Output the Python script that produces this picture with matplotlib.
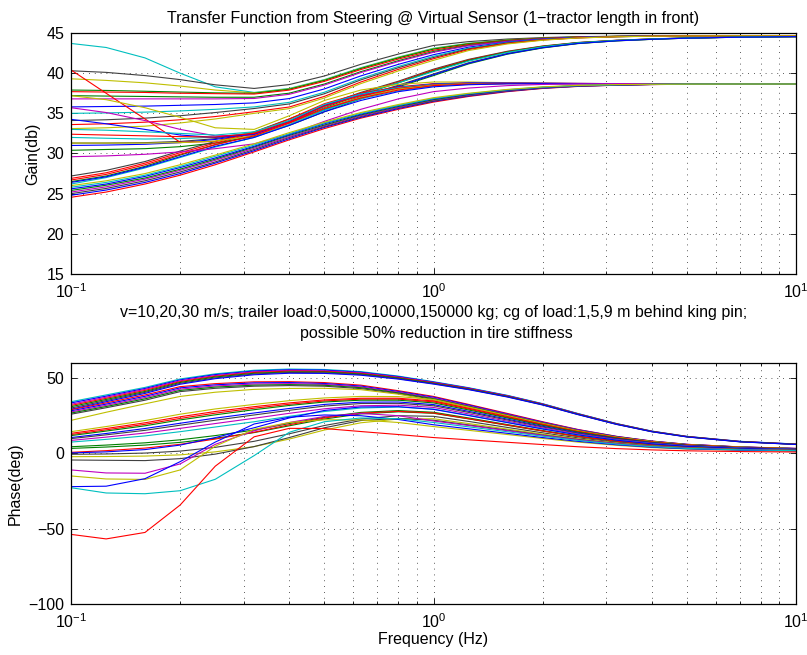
import matplotlib
matplotlib.use("Agg")
import matplotlib.pyplot as plt
from matplotlib.ticker import LogLocator, NullFormatter, NullLocator

# frequency grid (Hz) shared by every response curve
freq_hz = [0.1, 0.125, 0.16, 0.2, 0.25, 0.32, 0.4, 0.5, 0.63, 0.8,
           1.0, 1.25, 1.6, 2.0, 2.5, 3.2, 4.0, 5.0, 7.0, 10.0]

# gain (dB), one row per vehicle configuration
gain_db = [
    # settles at ~44.6 dB, early rise
    [43.7, 43.2, 41.9, 40.0, 38.3, 37.6, 38.1, 39.2, 40.68, 42.0, 43.1, 43.72, 44.14, 44.37, 44.51, 44.59, 44.63, 44.64, 44.65, 44.65],
    [40.3, 40.1, 39.7, 39.2, 38.55, 38.1, 38.58, 39.65, 41.1, 42.38, 43.45, 43.93, 44.25, 44.43, 44.54, 44.6, 44.63, 44.64, 44.65, 44.65],
    [39.3, 39.1, 38.8, 38.4, 37.9, 37.55, 38.05, 39.15, 40.62, 41.95, 43.05, 43.69, 44.12, 44.36, 44.5, 44.58, 44.63, 44.64, 44.65, 44.65],
    [37.9, 37.85, 37.75, 37.65, 37.55, 37.5, 38.0, 39.1, 40.58, 41.9, 43.0, 43.66, 44.11, 44.35, 44.5, 44.58, 44.63, 44.64, 44.65, 44.65],
    [37.7, 37.65, 37.6, 37.5, 37.45, 37.4, 37.89, 38.98, 40.45, 41.76, 42.85, 43.57, 44.06, 44.33, 44.49, 44.58, 44.62, 44.64, 44.65, 44.65],
    [37.2, 37.15, 37.1, 37.05, 37.0, 37.0, 37.51, 38.65, 40.19, 41.56, 42.7, 43.48, 44.01, 44.3, 44.47, 44.57, 44.62, 44.64, 44.65, 44.65],
    [36.8, 36.8, 36.8, 36.8, 36.8, 36.85, 37.37, 38.52, 40.07, 41.45, 42.6, 43.42, 43.97, 44.28, 44.47, 44.57, 44.62, 44.64, 44.65, 44.65],
    [35.8, 35.85, 35.9, 36.0, 36.1, 36.3, 36.84, 38.04, 39.66, 41.1, 42.3, 43.24, 43.87, 44.23, 44.44, 44.56, 44.61, 44.64, 44.65, 44.65],
    [35.0, 35.05, 35.15, 35.3, 35.5, 35.8, 36.37, 37.63, 39.33, 40.84, 42.1, 43.12, 43.81, 44.19, 44.42, 44.55, 44.61, 44.64, 44.65, 44.65],
    [34.1, 34.2, 34.4, 34.7, 35.1, 35.6, 36.17, 37.44, 39.16, 40.68, 41.95, 43.03, 43.76, 44.16, 44.41, 44.54, 44.61, 44.64, 44.65, 44.65],
    [33.6, 33.7, 33.9, 34.2, 34.6, 35.2, 35.79, 37.11, 38.9, 40.48, 41.8, 42.94, 43.71, 44.14, 44.39, 44.54, 44.61, 44.64, 44.65, 44.65],
    [33.1, 33.2, 33.4, 33.8, 34.3, 35.0, 35.59, 36.91, 38.7, 40.28, 41.6, 42.82, 43.64, 44.1, 44.38, 44.53, 44.6, 44.63, 44.65, 44.65],
    # settles at ~44.6 dB, late rise
    [31.3, 31.3, 31.35, 31.5, 31.85, 32.6, 33.9, 35.5, 37.1, 38.5, 39.9, 41.3, 42.46, 43.2, 43.71, 44.04, 44.22, 44.36, 44.48, 44.55],
    [30.4, 30.5, 30.6, 30.85, 31.3, 32.1, 33.5, 35.2, 36.8, 38.3, 39.7, 41.16, 42.37, 43.14, 43.68, 44.02, 44.21, 44.36, 44.48, 44.55],
    [27.2, 27.9, 29.0, 30.3, 31.5, 32.7, 34.3, 36.0, 37.6, 39.0, 40.5, 41.72, 42.73, 43.38, 43.82, 44.1, 44.27, 44.39, 44.49, 44.55],
    [26.9, 27.6, 28.8, 30.1, 31.3, 32.5, 34.1, 35.9, 37.5, 38.9, 40.4, 41.65, 42.68, 43.35, 43.8, 44.09, 44.26, 44.38, 44.49, 44.55],
    [26.5, 27.2, 28.4, 29.8, 31.1, 32.3, 33.9, 35.7, 37.3, 38.8, 40.3, 41.58, 42.64, 43.32, 43.79, 44.08, 44.25, 44.38, 44.49, 44.55],
    [32.0, 31.9, 31.8, 31.85, 32.05, 32.6, 34.0, 35.8, 37.4, 38.8, 40.2, 41.5, 42.59, 43.29, 43.77, 44.07, 44.25, 44.38, 44.49, 44.55],
    [31.0, 31.05, 31.15, 31.35, 31.75, 32.45, 33.8, 35.4, 37.0, 38.4, 39.8, 41.23, 42.41, 43.17, 43.7, 44.03, 44.22, 44.36, 44.48, 44.55],
    # settles at ~38.7 dB, early rise
    [40.4, 37.5, 34.3, 31.4, 31.5, 32.6, 34.3, 36.2, 37.5, 38.3, 38.7, 38.8, 38.78, 38.74, 38.72, 38.7, 38.7, 38.7, 38.7, 38.7],
    [37.2, 36.7, 35.7, 34.5, 33.2, 33.0, 34.7, 36.6, 37.9, 38.6, 38.9, 38.9, 38.82, 38.76, 38.72, 38.7, 38.7, 38.7, 38.7, 38.7],
    [35.7, 35.1, 34.1, 33.0, 32.2, 32.3, 33.8, 35.9, 37.3, 38.1, 38.6, 38.75, 38.78, 38.74, 38.72, 38.7, 38.7, 38.7, 38.7, 38.7],
    [34.25, 33.7, 33.0, 32.3, 32.0, 32.4, 34.0, 36.0, 37.4, 38.2, 38.65, 38.78, 38.78, 38.74, 38.72, 38.7, 38.7, 38.7, 38.7, 38.7],
    [33.0, 32.9, 32.7, 32.5, 32.3, 32.7, 34.1, 36.1, 37.4, 38.2, 38.6, 38.72, 38.74, 38.72, 38.7, 38.7, 38.7, 38.7, 38.7, 38.7],
    [32.4, 32.3, 32.2, 32.1, 32.05, 32.5, 33.9, 35.9, 37.2, 38.1, 38.55, 38.7, 38.74, 38.72, 38.7, 38.7, 38.7, 38.7, 38.7, 38.7],
    [31.3, 31.3, 31.3, 31.35, 31.55, 32.2, 33.6, 35.6, 37.0, 38.0, 38.5, 38.66, 38.72, 38.71, 38.7, 38.7, 38.7, 38.7, 38.7, 38.7],
    [26.2, 27.0, 28.2, 29.5, 30.8, 32.0, 33.6, 35.4, 36.8, 37.8, 38.4, 38.62, 38.7, 38.7, 38.7, 38.7, 38.7, 38.7, 38.7, 38.7],
    [26.7, 27.4, 28.6, 29.9, 31.1, 32.2, 33.8, 35.6, 36.9, 37.9, 38.45, 38.64, 38.7, 38.7, 38.7, 38.7, 38.7, 38.7, 38.7, 38.7],
    [26.4, 27.1, 28.3, 29.6, 30.9, 32.0, 33.5, 35.2, 36.6, 37.7, 38.3, 38.56, 38.68, 38.7, 38.7, 38.7, 38.7, 38.7, 38.7, 38.7],
    [29.6, 29.7, 29.9, 30.2, 30.6, 31.2, 32.4, 34.0, 35.5, 36.8, 37.7, 38.15, 38.45, 38.6, 38.67, 38.7, 38.7, 38.7, 38.7, 38.7],
    # settles at ~38.7 dB, late rise
    [24.55, 25.2, 26.2, 27.3, 28.6, 30.2, 31.7, 33.1, 34.4, 35.5, 36.4, 37.1, 37.7, 38.1, 38.35, 38.5, 38.58, 38.62, 38.65, 38.65],
    [24.8, 25.45, 26.4, 27.5, 28.8, 30.35, 31.85, 33.25, 34.5, 35.6, 36.5, 37.17, 37.75, 38.13, 38.37, 38.51, 38.59, 38.62, 38.65, 38.65],
    [25.0, 25.65, 26.6, 27.7, 28.95, 30.5, 32.0, 33.35, 34.6, 35.7, 36.55, 37.22, 37.79, 38.16, 38.39, 38.52, 38.59, 38.62, 38.65, 38.65],
    [25.2, 25.85, 26.8, 27.9, 29.15, 30.65, 32.1, 33.45, 34.7, 35.75, 36.65, 37.28, 37.83, 38.19, 38.41, 38.54, 38.6, 38.63, 38.65, 38.65],
    [25.4, 26.05, 26.95, 28.05, 29.3, 30.8, 32.25, 33.55, 34.8, 35.85, 36.7, 37.34, 37.87, 38.22, 38.43, 38.55, 38.6, 38.63, 38.65, 38.65],
    [25.6, 26.2, 27.15, 28.25, 29.45, 30.9, 32.35, 33.7, 34.9, 35.95, 36.8, 37.39, 37.9, 38.24, 38.44, 38.56, 38.61, 38.63, 38.65, 38.65],
    [25.8, 26.4, 27.3, 28.4, 29.65, 31.05, 32.45, 33.8, 35.0, 36.0, 36.85, 37.44, 37.94, 38.27, 38.46, 38.57, 38.61, 38.64, 38.65, 38.65],
    [26.0, 26.6, 27.5, 28.6, 29.8, 31.2, 32.6, 33.9, 35.1, 36.1, 36.95, 37.5, 37.98, 38.3, 38.48, 38.58, 38.62, 38.64, 38.65, 38.65],
]
gain_colors = ['c', 'k', 'y', 'g', 'r', 'g', 'm', 'b', 'c', 'k', 'r', 'y',
               'k', 'g', 'k', 'r', 'g', 'c', 'b',
               'r', 'y', 'm', 'b', 'c', 'r', 'y', 'c', 'r', 'b', 'm',
               'r', 'b', 'k', 'm', 'g', 'b', 'c', 'y']

# phase (deg), one row per vehicle configuration
phase_deg = [
    # highest band
    [34.3, 38.8, 43.8, 49.4, 52.8, 55.2, 56.0, 55.7, 54.3, 51.3, 47.6, 43.6, 38.5, 33.0, 26.5, 19.8, 14.8, 11.3, 8.0, 6.2],
    [33.5, 38.0, 43.1, 48.8, 52.3, 54.7, 55.5, 55.3, 53.9, 51.0, 47.33, 43.38, 38.32, 32.85, 26.37, 19.7, 14.72, 11.23, 7.94, 6.15],
    [32.6, 37.3, 42.5, 48.2, 51.7, 54.2, 55.1, 54.8, 53.5, 50.6, 47.07, 43.17, 38.13, 32.7, 26.25, 19.6, 14.65, 11.17, 7.88, 6.1],
    [31.8, 36.55, 41.8, 47.65, 51.2, 53.7, 54.6, 54.4, 53.1, 50.3, 46.8, 42.95, 37.95, 32.55, 26.12, 19.5, 14.57, 11.1, 7.82, 6.05],
    [31.0, 35.8, 41.1, 47.1, 50.7, 53.2, 54.1, 54.0, 52.7, 50.0, 46.53, 42.73, 37.77, 32.4, 26.0, 19.4, 14.5, 11.03, 7.77, 6.0],
    [30.1, 35.05, 40.5, 46.5, 50.1, 52.7, 53.7, 53.5, 52.3, 49.6, 46.27, 42.52, 37.58, 32.25, 25.87, 19.3, 14.42, 10.97, 7.71, 5.95],
    [29.3, 34.3, 39.8, 45.9, 49.6, 52.2, 53.2, 53.1, 51.9, 49.3, 46.0, 42.3, 37.4, 32.1, 25.75, 19.2, 14.35, 10.9, 7.65, 5.9],
    # second band
    [29.0, 33.5, 38.8, 44.3, 46.3, 47.5, 47.6, 47.0, 45.3, 41.6, 37.8, 32.5, 26.5, 21.0, 15.9, 11.3, 8.2, 6.0, 4.3, 3.3],
    [28.25, 32.7, 37.9, 43.5, 45.5, 46.8, 47.0, 46.4, 44.7, 41.1, 37.3, 32.1, 26.1, 20.7, 15.7, 11.2, 8.1, 6.0, 4.25, 3.25],
    [27.5, 31.9, 37.05, 42.65, 44.75, 46.05, 46.3, 45.8, 44.15, 40.6, 36.8, 31.6, 25.8, 20.4, 15.5, 11.0, 8.0, 5.9, 4.2, 3.2],
    [26.75, 31.1, 36.2, 41.8, 44.0, 45.3, 45.65, 45.2, 43.6, 40.15, 36.3, 31.2, 25.4, 20.1, 15.2, 10.9, 7.9, 5.8, 4.15, 3.15],
    [26.0, 30.3, 35.3, 41.0, 43.2, 44.6, 45.0, 44.6, 43.0, 39.7, 35.8, 30.8, 25.1, 19.9, 15.0, 10.7, 7.8, 5.7, 4.1, 3.1],
    [21.9, 27.3, 32.9, 37.8, 40.6, 42.5, 43.1, 43.2, 42.3, 39.3, 35.0, 30.1, 24.5, 19.4, 14.7, 10.5, 7.6, 5.6, 4.0, 3.05],
    # main band
    [14.4, 17.8, 21.8, 26.0, 29.5, 32.5, 35.0, 36.8, 37.8, 37.7, 35.8, 30.8, 25.1, 19.9, 15.0, 10.7, 7.8, 5.7, 4.1, 3.1],
    [13.3, 16.5, 20.3, 24.3, 27.8, 31.0, 33.5, 35.5, 36.6, 36.6, 34.8, 29.9, 24.4, 19.3, 14.6, 10.4, 7.55, 5.55, 3.95, 3.0],
    [12.5, 15.6, 19.3, 23.2, 26.7, 30.0, 32.6, 34.8, 36.0, 36.0, 34.2, 29.4, 23.9, 19.0, 14.4, 10.3, 7.4, 5.5, 3.9, 3.0],
    [11.8, 14.8, 18.3, 22.2, 25.6, 29.0, 31.8, 34.1, 35.3, 35.3, 33.5, 28.8, 23.5, 18.6, 14.1, 10.05, 7.25, 5.35, 3.8, 2.9],
    [10.5, 13.2, 16.5, 20.0, 23.4, 26.8, 29.8, 32.5, 34.0, 34.1, 32.4, 27.9, 22.7, 18.0, 13.6, 9.7, 7.0, 5.2, 3.7, 2.8],
    [9.8, 12.3, 15.3, 18.7, 22.0, 25.5, 28.6, 31.4, 33.1, 33.2, 31.6, 27.2, 22.1, 17.5, 13.3, 9.5, 6.85, 5.05, 3.6, 2.75],
    [8.6, 10.8, 13.5, 16.6, 19.8, 23.3, 26.6, 29.6, 31.6, 32.0, 30.5, 26.2, 21.35, 16.9, 12.8, 9.15, 6.6, 4.9, 3.5, 2.65],
    [7.5, 9.3, 11.6, 14.4, 17.5, 21.0, 24.6, 27.8, 30.1, 30.8, 29.4, 25.3, 20.6, 16.3, 12.35, 8.8, 6.4, 4.7, 3.35, 2.55],
    [4.4, 5.5, 7.0, 9.0, 11.8, 15.5, 19.8, 24.0, 27.2, 28.4, 27.3, 23.5, 19.1, 15.15, 11.5, 8.2, 5.9, 4.35, 3.1, 2.4],
    [3.3, 4.2, 5.5, 7.3, 10.0, 13.8, 18.3, 22.8, 26.2, 27.6, 26.6, 22.9, 18.6, 14.8, 11.2, 8.0, 5.8, 4.25, 3.05, 2.3],
    [0.7, 1.8, 3.5, 6.0, 9.5, 14.0, 19.0, 23.5, 26.7, 27.9, 26.8, 23.0, 18.8, 14.9, 11.25, 8.05, 5.8, 4.3, 3.05, 2.35],
    [0.3, 1.0, 2.5, 5.5, 10.5, 17.0, 23.5, 28.5, 30.8, 31.0, 29.2, 25.1, 20.4, 16.2, 12.3, 8.75, 6.35, 4.65, 3.3, 2.55],
    [-0.6, -0.4, 0.2, 1.5, 4.0, 8.0, 13.0, 18.5, 22.8, 25.0, 24.6, 21.2, 17.2, 13.65, 10.3, 7.4, 5.35, 3.95, 2.8, 2.15],
    [-2.2, -2.1, -1.8, -1.0, 1.0, 4.5, 9.5, 15.5, 20.3, 22.8, 23.0, 19.8, 16.1, 12.8, 9.65, 6.9, 5.0, 3.7, 2.6, 2.0],
    # negative phase at low frequency
    [-4.4, -4.6, -4.8, -3.5, -0.5, 4.5, 10.5, 17.0, 21.8, 23.2, 22.0, 18.9, 15.4, 12.2, 9.25, 6.6, 4.8, 3.5, 2.5, 1.9],
    [-11.0, -13.0, -13.2, -7.0, 6.0, 15.0, 20.5, 24.5, 26.5, 25.0, 21.5, 18.5, 15.05, 11.9, 9.0, 6.45, 4.65, 3.45, 2.45, 1.85],
    [-15.0, -17.0, -17.3, -11.0, 4.8, 16.0, 20.5, 22.3, 22.2, 20.5, 17.8, 15.3, 12.5, 9.9, 7.5, 5.35, 3.85, 2.85, 2.05, 1.55],
    [-22.1, -21.8, -16.8, -5.5, 7.5, 19.5, 24.0, 25.5, 25.0, 22.5, 19.0, 16.3, 13.3, 10.5, 8.0, 5.7, 4.1, 3.05, 2.15, 1.65],
    [-22.8, -26.3, -26.8, -24.8, -17.2, -1.5, 14.0, 21.0, 23.5, 23.0, 20.5, 17.6, 14.35, 11.4, 8.6, 6.15, 4.45, 3.3, 2.35, 1.8],
    [-53.8, -56.8, -52.5, -34.3, -8.5, 11.0, 16.6, 16.5, 14.5, 12.5, 10.5, 9.0, 7.35, 5.85, 4.4, 3.15, 2.3, 1.7, 1.2, 0.9],
]
phase_colors = ['c', 'b', 'm', 'r', 'g', 'k', 'b',
                'r', 'b', 'm', 'g', 'k', 'y',
                'y', 'r', 'r', 'g', 'b', 'k', 'm', 'c', 'g', 'g', 'r', 'b', 'k', 'y',
                'k', 'm', 'y', 'b', 'c', 'r']

title_text = "Transfer Function from Steering @ Virtual Sensor (1\u2212tractor length in front)"
note_line1 = "v=10,20,30 m/s; trailer load:0,5000,10000,150000 kg; cg of load:1,5,9 m behind king pin;"
note_line2 = "possible 50% reduction in tire stiffness"

# old MATLAB colour order
matlab_rgb = {
    'b': (0.0, 0.0, 1.0),
    'g': (0.0, 0.5, 0.0),
    'r': (1.0, 0.0, 0.0),
    'c': (0.0, 0.75, 0.75),
    'm': (0.75, 0.0, 0.75),
    'y': (0.75, 0.75, 0.0),
    'k': (0.25, 0.25, 0.25),
}

FS = 11.5
plt.rcParams['font.family'] = ['Liberation Sans', 'DejaVu Sans']
plt.rcParams['mathtext.fontset'] = 'custom'
plt.rcParams['mathtext.rm'] = 'Liberation Sans'
plt.rcParams['axes.unicode_minus'] = True


def style_axes(ax, ylim, yticks):
    ax.set_xscale('log')
    ax.set_xlim(0.1, 10)
    ax.set_ylim(*ylim)
    ax.set_yticks(yticks)
    ax.yaxis.set_minor_locator(NullLocator())
    ax.xaxis.set_major_locator(LogLocator(base=10))
    ax.xaxis.set_minor_locator(LogLocator(base=10, subs=range(2, 10)))
    ax.xaxis.set_minor_formatter(NullFormatter())
    ax.set_axisbelow(True)
    ax.grid(True, which='major', color='0.15', linestyle=(0, (1, 6)), linewidth=0.6)
    ax.grid(True, which='minor', axis='x', color='0.15', linestyle=(0, (1, 6)), linewidth=0.6)
    ax.tick_params(which='both', direction='in', top=True, right=True,
                   labelsize=FS, width=0.6)
    ax.tick_params(which='major', length=4)
    ax.tick_params(which='minor', length=2.5)
    ax.tick_params(axis='x', which='major', pad=6)
    ax.tick_params(axis='y', which='major', pad=5)
    for sp in ax.spines.values():
        sp.set_linewidth(0.9)


fig = plt.figure(figsize=(8.07, 6.55), dpi=100)
ax1 = fig.add_axes([0.088, 0.5817, 0.8984, 0.3679])
ax2 = fig.add_axes([0.088, 0.0779, 0.8984, 0.3679])

for row, col in zip(gain_db, gain_colors):
    ax1.plot(freq_hz, row, color=matlab_rgb[col], linewidth=0.8)
for row, col in zip(phase_deg, phase_colors):
    ax2.plot(freq_hz, row, color=matlab_rgb[col], linewidth=0.8)

style_axes(ax1, (15, 45), [15, 20, 25, 30, 35, 40, 45])
style_axes(ax2, (-100, 60), [-100, -50, 0, 50])

ax1.set_title(title_text, fontsize=FS, pad=7)
ax1.set_ylabel("Gain(db)", fontsize=FS)
ax2.set_ylabel("Phase(deg)", fontsize=FS)
ax2.set_xlabel("Frequency (Hz)", fontsize=FS, labelpad=1)

cx = (71 + 796) / 2 / 807
fig.text(cx, 1 - 313 / 655, note_line1, ha='center', va='center', fontsize=FS)
fig.text(cx + 0.003, 1 - 333 / 655, note_line2, ha='center', va='center', fontsize=FS)

fig.savefig("out.png", dpi=100)
